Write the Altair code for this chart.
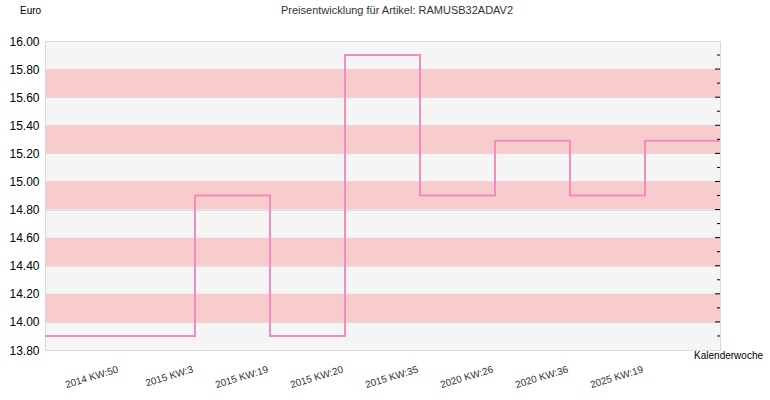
import altair as alt
import pandas as pd

# Calendar weeks with a price change and the price that applies from then on
weeks = ["2014 KW:50", "2015 KW:3", "2015 KW:19", "2015 KW:20",
         "2015 KW:35", "2020 KW:26", "2020 KW:36", "2025 KW:19"]
prices = [13.90, 14.90, 13.90, 15.90, 14.90, 15.29, 14.90, 15.29]

y_ticks = [13.8, 14.0, 14.2, 14.4, 14.6, 14.8, 15.0, 15.2, 15.4, 15.6, 15.8, 16.0]
band_starts = [14.0, 14.4, 14.8, 15.2, 15.6]
major_marks = [14.0, 14.2, 14.4, 14.6, 14.8, 15.0, 15.2, 15.4, 15.6, 15.8]
minor_marks = [13.9, 14.1, 14.3, 14.5, 14.7, 14.9, 15.1, 15.3, 15.5, 15.7, 15.9]

W, H = 675, 309
FONT = "Liberation Sans"
LINE = "#f48cc2"

# step series: the first price is held from the left edge, the last to the right edge
pos = [0] + [i + 1 for i in range(len(weeks))] + [len(weeks) + 1]
vals = [prices[0]] + prices + [prices[-1]]
line_df = pd.DataFrame({"pos": pos, "price": vals})
bands_df = pd.DataFrame({"lo": band_starts, "hi": [b + 0.2 for b in band_starts]})
major_df = pd.DataFrame({"v": major_marks})
minor_df = pd.DataFrame({"v": minor_marks})

label_expr = "[" + ",".join(f"'{w}'" for w in weeks) + "][datum.value - 1]"

x_scale = alt.Scale(domain=[0, len(weeks) + 1], nice=False, zero=False)
y_scale = alt.Scale(domain=[13.8, 16.0], nice=False, zero=False)

y_axis = alt.Axis(values=y_ticks, format=".2f", title=None, grid=True,
                  gridColor="#dcdcdc", gridWidth=1, domain=False, ticks=False,
                  labelOverlap=False, labelFont=FONT, labelFontSize=12,
                  labelColor="#000000", labelPadding=6)

bands = alt.Chart(bands_df).mark_rect(color="#f8cccc").encode(
    y=alt.Y("lo:Q", scale=y_scale, axis=y_axis),
    y2="hi:Q",
)

line = alt.Chart(line_df).mark_line(color=LINE, strokeWidth=2,
                                    interpolate="step-after").encode(
    x=alt.X("pos:Q", scale=x_scale,
            axis=alt.Axis(values=list(range(1, len(weeks) + 1)), labelExpr=label_expr,
                          title=None, grid=False, domain=False, ticks=False,
                          labelAngle=-17, labelAlign="right", labelBaseline="top",
                          labelOverlap=False, labelOffset=-4,
                          labelFont=FONT, labelFontSize=10, labelColor="#333333",
                          labelPadding=14)),
    y=alt.Y("price:Q", scale=y_scale, axis=y_axis),
)

major = alt.Chart(major_df).mark_rule(color="#000000", strokeWidth=1).encode(
    x=alt.value(W - 5), x2=alt.value(W), y=alt.Y("v:Q", scale=y_scale, axis=y_axis)
)
minor = alt.Chart(minor_df).mark_rule(color="#000000", strokeWidth=1).encode(
    x=alt.value(W - 3), x2=alt.value(W), y=alt.Y("v:Q", scale=y_scale, axis=y_axis)
)

title = alt.Chart(pd.DataFrame({"t": ["Preisentwicklung für Artikel: RAMUSB32ADAV2"]})).mark_text(
    font=FONT, fontSize=11, color="#333333", align="center", baseline="middle"
).encode(x=alt.value(352), y=alt.value(-30), text="t:N")

unit = alt.Chart(pd.DataFrame({"t": ["Euro"]})).mark_text(
    font=FONT, fontSize=10, color="#000000", align="left", baseline="middle"
).encode(x=alt.value(-25), y=alt.value(-30), text="t:N")

xlabel = alt.Chart(pd.DataFrame({"t": ["Kalenderwoche"]})).mark_text(
    font=FONT, fontSize=10, color="#000000", align="right", baseline="middle"
).encode(x=alt.value(718), y=alt.value(H + 6), text="t:N")

chart = alt.layer(bands, line, major, minor, title, unit, xlabel).properties(
    width=W, height=H,
    autosize=alt.AutoSizeParams(type="none"),
    padding={"left": 45, "top": 41, "right": 50, "bottom": 50},
    background="#ffffff",
).configure_view(
    fill="#f5f5f5", stroke="#d8d8d8", strokeWidth=1
).configure_axisY(labelOverlap=False)

chart.save("out.html", embed_options={"renderer": "svg", "actions": False})
